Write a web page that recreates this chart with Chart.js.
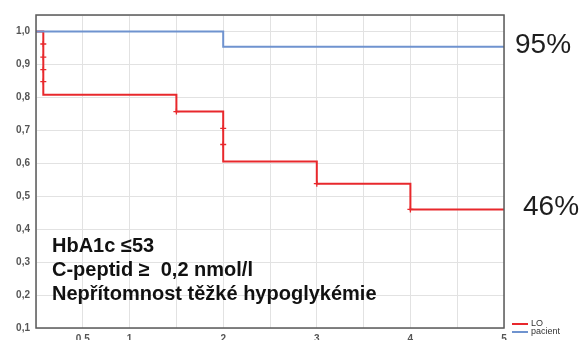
<!DOCTYPE html>
<html>
<head>
<meta charset="utf-8">
<script src="https://cdn.jsdelivr.net/npm/chart.js@4"></script>
<style>
  html, body { margin: 0; padding: 0; background: #fff; overflow: hidden; }
  #wrap { position: relative; width: 582px; height: 352px; }
</style>
</head>
<body>
<div id="wrap"><canvas id="c"></canvas></div>
<script>
// Kaplan–Meier survival steps (time in years, survival proportion)
const loTimes    = [0, 0.078, 1.5, 2.0, 3.0, 4.0, 5.0];
const loSurvival = [1.0, 0.808, 0.757, 0.605, 0.538, 0.46, 0.46];
const pacientTimes    = [0, 2.0, 5.0];
const pacientSurvival = [1.0, 0.954, 0.954];

// censored observations of the LO group
const loCensorTimes = [0.078, 0.078, 0.078, 0.078, 1.5, 2.0, 2.0, 3.0, 4.0];
const loCensorSurv  = [0.962, 0.922, 0.884, 0.848, 0.757, 0.706, 0.657, 0.538, 0.46];

const seriesNames = ['LO', 'pacient'];

// axis ticks
const xTickValues = [0.5, 1, 2, 3, 4, 5];
const xTickLabels = ['0,5', '1', '2', '3', '4', '5'];
const yTickValues = [0.1, 0.2, 0.3, 0.4, 0.5, 0.6, 0.7, 0.8, 0.9, 1.0];
const yTickLabels = ['0,1', '0,2', '0,3', '0,4', '0,5', '0,6', '0,7', '0,8', '0,9', '1,0'];

// criteria shown inside the plot
const noteLines = ['HbA1c \u226453', 'C-peptid \u2265  0,2 nmol/l', 'Nep\u0159\u00edtomnost t\u011b\u017ek\u00e9 hypoglyk\u00e9mie'];

const RED = '#e8282c';
const BLUE = '#6f93cf';
const FONT = '"Liberation Sans", Arial, sans-serif';

const pts = (xs, ys) => xs.map((x, i) => ({ x, y: ys[i] }));

// frame around the plotting area
const framePlugin = {
  id: 'frame',
  afterDatasetsDraw(chart) {
    const { ctx, chartArea: a } = chart;
    ctx.save();
    ctx.strokeStyle = '#5a5a5a';
    ctx.lineWidth = 1.5;
    ctx.strokeRect(a.left, a.top, a.right - a.left, a.bottom - a.top);
    ctx.restore();
  }
};

// final survival percentages to the right of the plot, criteria text, legend
const annotatePlugin = {
  id: 'annotate',
  afterDraw(chart) {
    const { ctx, chartArea: a, scales } = chart;
    ctx.save();

    // end-of-curve percentages
    ctx.font = '28px ' + FONT;
    ctx.fillStyle = '#1e1e1e';
    ctx.textBaseline = 'alphabetic';
    const ends = [
      { v: pacientSurvival[pacientSurvival.length - 1], dx: 11 },
      { v: loSurvival[loSurvival.length - 1], dx: 19 }
    ];
    ends.forEach(e => {
      const y = scales.y.getPixelForValue(e.v);
      ctx.fillText(Math.round(e.v * 100) + '%', a.right + e.dx, y + 6);
    });

    // criteria text
    ctx.font = 'bold 20px ' + FONT;
    ctx.fillStyle = '#111';
    noteLines.forEach((t, i) => {
      ctx.fillText(t, a.left + 16, a.bottom - 76 + i * 24);
    });

    // legend
    const colors = [RED, BLUE];
    ctx.font = '9px ' + FONT;
    ctx.textBaseline = 'middle';
    seriesNames.forEach((n, i) => {
      const y = a.bottom - 4 + i * 8;
      ctx.strokeStyle = colors[i];
      ctx.lineWidth = 2;
      ctx.beginPath();
      ctx.moveTo(a.right + 8, y);
      ctx.lineTo(a.right + 24, y);
      ctx.stroke();
      ctx.fillStyle = '#333';
      ctx.fillText(n, a.right + 27, y);
    });
    ctx.restore();
  }
};

new Chart(document.getElementById('c'), {
  type: 'line',
  data: {
    datasets: [
      {
        label: seriesNames[1],
        data: pts(pacientTimes, pacientSurvival),
        borderColor: BLUE,
        borderWidth: 2,
        stepped: 'before',
        pointRadius: 0,
        fill: false,
        order: 0
      },
      {
        label: seriesNames[0] + ' censored',
        type: 'scatter',
        data: pts(loCensorTimes, loCensorSurv),
        pointStyle: 'cross',
        pointRadius: 3,
        borderColor: RED,
        borderWidth: 1.3,
        showLine: false,
        order: 1
      },
      {
        label: seriesNames[0],
        data: pts(loTimes, loSurvival),
        borderColor: RED,
        borderWidth: 2,
        stepped: 'before',
        pointRadius: 0,
        fill: false,
        order: 2
      }
    ]
  },
  options: {
    responsive: true,
    maintainAspectRatio: false,
    animation: false,
    layout: { padding: { left: 0, right: 78, top: 15, bottom: 0 } },
    plugins: { legend: { display: false }, tooltip: { enabled: false } },
    scales: {
      x: {
        type: 'linear',
        min: 0,
        max: 5,
        ticks: {
          stepSize: 0.5,
          autoSkip: false,
          maxRotation: 0,
          padding: 5,
          color: '#555',
          font: { family: FONT, size: 10, weight: 'bold' },
          callback: v => {
            const i = xTickValues.findIndex(t => Math.abs(t - v) < 1e-6);
            return i >= 0 ? xTickLabels[i] : '';
          }
        },
        grid: { color: '#e2e2e2', lineWidth: 1, drawTicks: false },
        border: { display: false },
        afterFit: s => { s.height = 24; }
      },
      y: {
        type: 'linear',
        min: 0.1,
        max: 1.05,
        ticks: {
          stepSize: 0.1,
          autoSkip: false,
          padding: 6,
          color: '#555',
          font: { family: FONT, size: 10, weight: 'bold' },
          callback: v => {
            const i = yTickValues.findIndex(t => Math.abs(t - v) < 1e-6);
            return i >= 0 ? yTickLabels[i] : '';
          }
        },
        grid: { color: '#e2e2e2', lineWidth: 1, drawTicks: false },
        border: { display: false },
        afterFit: s => { s.width = 36; }
      }
    }
  },
  plugins: [framePlugin, annotatePlugin]
});
</script>
</body>
</html>
